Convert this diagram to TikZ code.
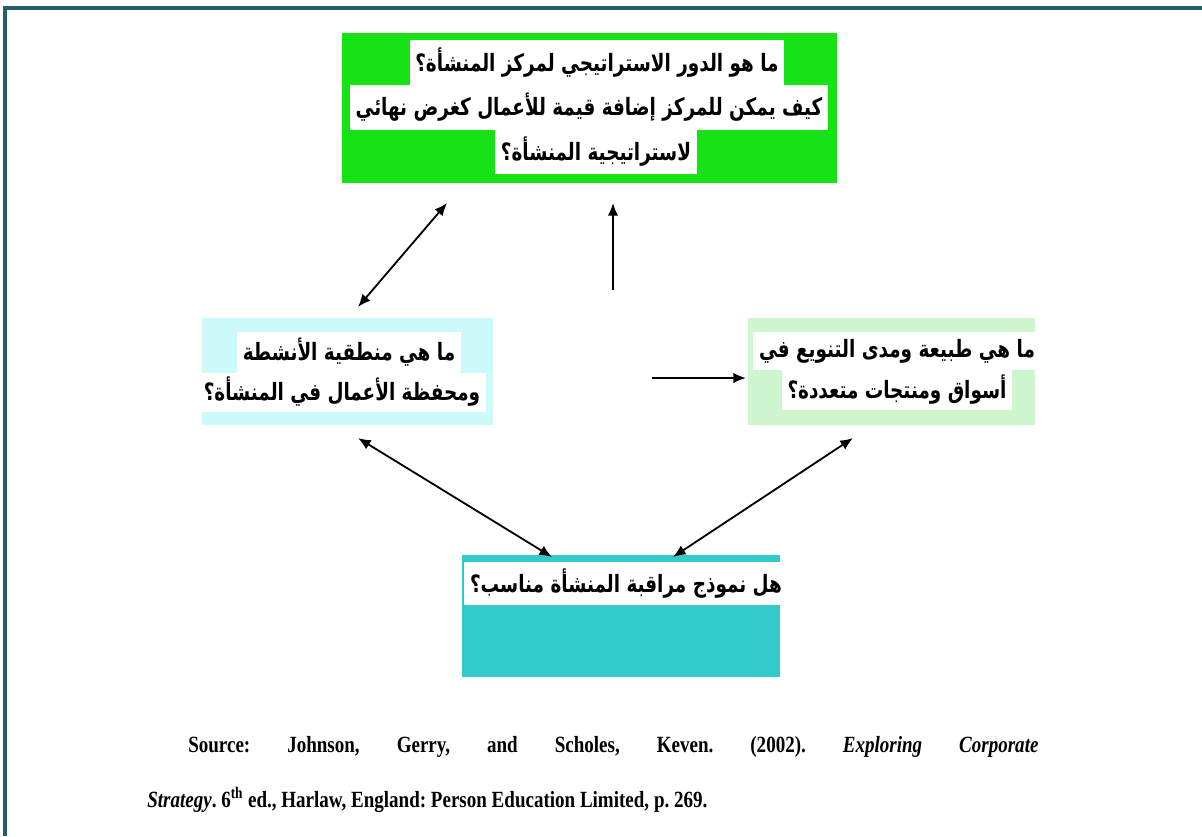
\documentclass[tikz,border=0pt]{standalone}
\usepackage{fontspec}
\setmainfont{Liberation Serif}
\newfontfamily\sourcefont{Liberation Serif}[FakeStretch=0.82]
\newfontfamily\arabicfont[Script=Arabic,FakeStretch=0.77]{DejaVu Sans}
\TeXXeTstate=1
\frenchspacing
\usetikzlibrary{positioning,calc,arrows.meta}

\definecolor{framecol}{RGB}{34,94,110}
\definecolor{topgreen}{RGB}{22,226,22}
\definecolor{leftcyan}{RGB}{204,250,250}
\definecolor{rightgreen}{RGB}{206,246,206}
\definecolor{bottomteal}{RGB}{52,202,204}

\begin{document}
\begin{tikzpicture}[x=0.025cm,y=-0.025cm]
  \useasboundingbox (0,0) rectangle (1202,836);
  \draw[framecol,line width=2.85pt] (5,836) -- (5,8) -- (1202,8);
  % coloured boxes
  \begin{scope}[
    every node/.style={
      draw=none,
      inner sep=0pt,
    },
    ]
    \node[fill=topgreen,minimum width=12.375cm,minimum height=3.75cm]  (centre)    at (589.5,108)   {};
    \node[fill=leftcyan,minimum width=7.275cm,minimum height=2.675cm]  (portfolio) at (347.5,371.5) {};
    \node[fill=rightgreen,minimum width=7.175cm,minimum height=2.675cm] (diversity) at (891.5,371.5) {};
    \node[fill=bottomteal,minimum width=7.95cm,minimum height=3.05cm]  (control)   at (621,616)     {};
  \end{scope}
  % question lines
  \begin{scope}[
    every node/.style={
      fill=white,
      inner xsep=4pt,
      inner ysep=0pt,
      anchor=center,
      font=\arabicfont\bfseries\fontsize{17}{19}\selectfont,
    },
    ]
    \node[minimum height=1.125cm] (centre-1) at (597,62.5)  {\beginR ما هو الدور الاستراتيجي لمركز المنشأة؟\endR};
    \node[minimum height=1.125cm] (centre-2) at (589,107.5) {\beginR كيف يمكن للمركز إضافة قيمة للأعمال كغرض نهائي\endR};
    \node[minimum height=1.1cm]   (centre-3) at (596,151.5) {\beginR لاستراتيجية المنشأة؟\endR};
    \node[minimum height=1.025cm] (portfolio-1) at (349,352) {\beginR ما هي منطقية الأنشطة\endR};
    \node[minimum height=0.975cm] (portfolio-2) at (342,392) {\beginR ومحفظة الأعمال في المنشأة؟\endR};
    \node[minimum height=0.95cm]  (diversity-1) at (897,351) {\beginR ما هي طبيعة ومدى التنويع في\endR};
    \node[minimum height=1.0cm]   (diversity-2) at (897,390) {\beginR أسواق ومنتجات متعددة؟\endR};
    \node[minimum height=1.075cm] (control-1)   at (626,583.5) {\beginR هل نموذج مراقبة المنشأة مناسب؟\endR};
  \end{scope}
  % arrow ends
  \coordinate (tl-a)  at (358,307);
  \coordinate (tl-b)  at (447,203);
  \coordinate (up-a)  at (613,290);
  \coordinate (up-b)  at (613,203);
  \coordinate (mid-a) at (652,378);
  \coordinate (mid-b) at (746,378);
  \coordinate (bl-a)  at (358,438);
  \coordinate (bl-b)  at (552,557);
  \coordinate (br-a)  at (673,557);
  \coordinate (br-b)  at (853,438);
  \begin{scope}[
    every edge/.style={draw,line width=1.3pt},
    >={Latex[length=9pt,width=7.5pt]},
    ]
    \path
    (tl-a)  edge[<->] (tl-b)
    (bl-a)  edge[<->] (bl-b)
    (br-a)  edge[<->] (br-b)
    (up-a)  edge[->]  (up-b)
    (mid-a) edge[->]  (mid-b);
  \end{scope}
  % source
  \begin{scope}[
    every node/.style={anchor=west,inner sep=0pt,font=\sourcefont\bfseries\fontsize{16.5}{19}\selectfont},
    ]
    \node (source-1) at (188,747)
      {\makebox[21.25cm][s]{Source: Johnson, Gerry, and Scholes, Keven. (2002). \textit{Exploring Corporate}}};
    \node (source-2) at (147,800)
      {\textit{Strategy}. 6\textsuperscript{th} ed., Harlaw, England: Person Education Limited, p. 269.};
  \end{scope}
\end{tikzpicture}
\end{document}
